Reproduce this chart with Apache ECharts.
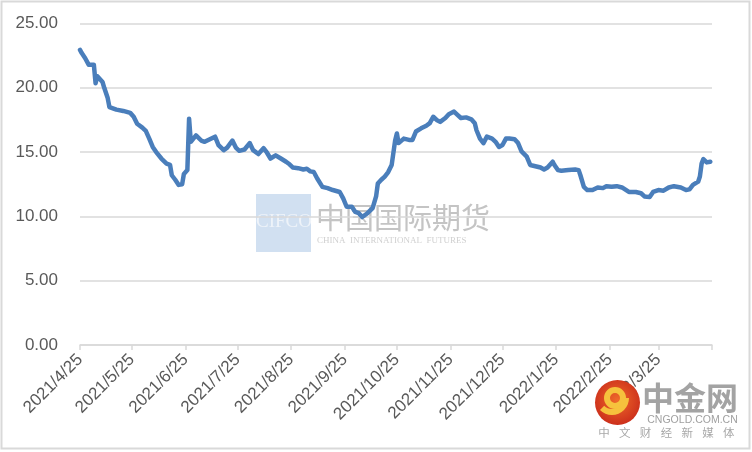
<!DOCTYPE html>
<html>
<head>
<meta charset="utf-8">
<script src="https://cdn.jsdelivr.net/npm/echarts@6/dist/echarts.min.js"></script>
<style>
html,body{margin:0;padding:0;background:#fff;}
#chart{width:752px;height:452px;}
</style>
</head>
<body>
<div id="chart"></div>
<script>
var dates = [
'2021-04-25','2021-04-26','2021-04-28','2021-04-30','2021-05-03','2021-05-04','2021-05-05','2021-05-06','2021-05-08','2021-05-09',
'2021-05-11','2021-05-12','2021-05-16','2021-05-20','2021-05-24','2021-05-26','2021-05-28','2021-05-31','2021-06-02','2021-06-04',
'2021-06-06','2021-06-08','2021-06-11','2021-06-14','2021-06-16','2021-06-17','2021-06-19','2021-06-21','2021-06-23','2021-06-24',
'2021-06-26','2021-06-27','2021-06-28','2021-06-29','2021-07-01','2021-07-04','2021-07-06','2021-07-09','2021-07-12','2021-07-14',
'2021-07-17','2021-07-19','2021-07-22','2021-07-24','2021-07-26','2021-07-29','2021-08-01','2021-08-03','2021-08-06','2021-08-09',
'2021-08-11','2021-08-13','2021-08-16','2021-08-19','2021-08-22','2021-08-24','2021-08-26','2021-08-29','2021-09-01','2021-09-03',
'2021-09-05','2021-09-07','2021-09-09','2021-09-12','2021-09-15','2021-09-18','2021-09-22','2021-09-24','2021-09-26','2021-09-29',
'2021-10-01','2021-10-03','2021-10-05','2021-10-08','2021-10-11','2021-10-13','2021-10-14','2021-10-16','2021-10-18','2021-10-20',
'2021-10-22','2021-10-24','2021-10-25','2021-10-26','2021-10-29','2021-11-01','2021-11-03','2021-11-05','2021-11-08','2021-11-11',
'2021-11-13','2021-11-15','2021-11-17','2021-11-19','2021-11-22','2021-11-24','2021-11-27','2021-11-29','2021-12-01','2021-12-04',
'2021-12-07','2021-12-09','2021-12-10','2021-12-12','2021-12-14','2021-12-16','2021-12-19','2021-12-21','2021-12-23','2021-12-25',
'2021-12-27','2021-12-29','2022-01-01','2022-01-03','2022-01-05','2022-01-08','2022-01-10','2022-01-13','2022-01-16','2022-01-18',
'2022-01-20','2022-01-23','2022-01-24','2022-01-26','2022-01-28','2022-02-01','2022-02-05','2022-02-07','2022-02-08','2022-02-10',
'2022-02-12','2022-02-15','2022-02-18','2022-02-21','2022-02-23','2022-02-26','2022-03-01','2022-03-04','2022-03-08','2022-03-12',
'2022-03-15','2022-03-17','2022-03-20','2022-03-22','2022-03-25','2022-03-28','2022-03-31','2022-04-03','2022-04-07','2022-04-10',
'2022-04-12','2022-04-14','2022-04-17','2022-04-18','2022-04-19','2022-04-20','2022-04-22','2022-04-24'
];
var values = [
22.95,22.7,22.3,21.8,21.8,20.35,20.9,20.75,20.45,20.0,
19.2,18.5,18.3,18.2,18.05,17.75,17.2,16.9,16.65,16.05,
15.4,15.0,14.5,14.1,14.0,13.2,12.85,12.45,12.5,13.3,
13.6,17.6,15.8,15.8,16.3,15.9,15.8,16.0,16.2,15.55,
15.15,15.35,15.9,15.35,15.1,15.2,15.7,15.15,14.85,15.3,
14.95,14.5,14.75,14.5,14.25,14.05,13.8,13.75,13.65,13.7,
13.5,13.45,12.95,12.3,12.2,12.05,11.9,11.4,10.75,10.75,
10.35,10.25,9.95,10.25,10.65,11.55,12.55,12.85,13.1,13.45,
14.0,15.9,16.45,15.7,16.05,15.95,15.95,16.6,16.85,17.05,
17.25,17.75,17.5,17.35,17.65,17.95,18.15,17.9,17.65,17.7,
17.55,17.25,16.7,16.05,15.7,16.2,16.05,15.8,15.4,15.55,
16.05,16.05,16.0,15.7,15.05,14.65,14.0,13.9,13.8,13.65,
13.8,14.25,14.0,13.6,13.55,13.6,13.65,13.6,13.2,12.3,
12.05,12.05,12.25,12.2,12.35,12.3,12.35,12.25,11.9,11.9,
11.8,11.55,11.5,11.9,12.05,12.0,12.25,12.35,12.25,12.05,
12.1,12.45,12.7,13.1,14.1,14.45,14.2,14.25
];
var tickDates = ['2021/4/25','2021/5/25','2021/6/25','2021/7/25','2021/8/25','2021/9/25','2021/10/25','2021/11/25','2021/12/25','2022/1/25','2022/2/25','2022/3/25','2022/4/25'];
var labelDates = tickDates.slice(0, 12);
var yTicks = [0, 5, 10, 15, 20, 25];

function toTime(s) {
  var p = s.split(/[\/-]/);
  return Date.UTC(+p[0], +p[1] - 1, +p[2]);
}
function fmt(t) {
  var d = new Date(t);
  return d.getUTCFullYear() + '/' + (d.getUTCMonth() + 1) + '/' + d.getUTCDate();
}

var seriesData = dates.map(function (d, i) { return [toTime(d), values[i]]; });

var sloganChars = ['中', '文', '财', '经', '新', '媒', '体'];
var sloganEls = sloganChars.map(function (c, i) {
  return {type: 'text', z: 101, silent: true, x: 604 + i * 20.8, y: 433,
    style: {text: c, fill: '#a8a8a8', font: '11.5px "Noto Sans CJK SC", sans-serif', align: 'center', verticalAlign: 'middle'}};
});

var chart = echarts.init(document.getElementById('chart'), null, {renderer: 'canvas'});
var labelFont = 'Liberation Sans, Arial, sans-serif';
chart.setOption({
  animation: false,
  backgroundColor: '#ffffff',
  grid: {left: 80, right: 40, top: 23.5, bottom: 107, containLabel: false},
  xAxis: {
    type: 'value',
    min: toTime(tickDates[0]),
    max: toTime(tickDates[tickDates.length - 1]),
    axisLine: {show: true, onZero: false, lineStyle: {color: '#d9d9d9', width: 1.5}},
    axisTick: {show: true, length: 5, lineStyle: {color: '#d9d9d9', width: 1.5}, customValues: tickDates.map(toTime)},
    axisLabel: {
      customValues: labelDates.map(toTime),
      formatter: function (v) { return fmt(v); },
      rotate: 45,
      margin: 12,
      color: '#595959',
      fontSize: 17,
      fontFamily: labelFont,
      showMinLabel: true,
      showMaxLabel: true,
      hideOverlap: false
    },
    splitLine: {show: false}
  },
  yAxis: {
    type: 'value',
    min: yTicks[0],
    max: yTicks[yTicks.length - 1],
    interval: 5,
    axisLine: {show: false},
    axisTick: {show: false},
    axisLabel: {
      formatter: function (v) { return v.toFixed(2); },
      color: '#595959',
      fontSize: 17,
      fontFamily: labelFont,
      margin: 22
    },
    splitLine: {show: true, lineStyle: {color: '#d9d9d9', width: 1.5}}
  },
  series: [{
    type: 'line',
    data: seriesData,
    showSymbol: false,
    symbol: 'none',
    smooth: false,
    z: 5,
    lineStyle: {color: '#4A7EBB', width: 4.5, cap: 'round', join: 'round'}
  }],
  graphic: [
    {type: 'rect', z: 100, silent: true, shape: {x: 1.5, y: 1.5, width: 748, height: 447}, style: {fill: null, stroke: '#d9d9d9', lineWidth: 2}},
    {type: 'rect', z: -1, silent: true, shape: {x: 256, y: 194, width: 55, height: 58}, style: {fill: '#c9dbee', opacity: 0.85}},
    {type: 'text', z: -1, silent: true, x: 284, y: 222, style: {text: 'CIFCO', fill: '#eef3f9', font: '19px Liberation Serif, serif', align: 'center', verticalAlign: 'middle'}},
    {type: 'text', z: -1, silent: true, x: 316, y: 218, style: {text: '中国国际期货', fill: '#c4c4c4', font: '29px "Noto Sans CJK SC", sans-serif', align: 'left', verticalAlign: 'middle'}},
    {type: 'text', z: -1, silent: true, x: 317, y: 241, style: {text: 'CHINA  INTERNATIONAL  FUTURES', fill: '#d0d0d0', font: '9px Liberation Serif, serif', align: 'left', verticalAlign: 'middle'}},
    {type: 'circle', z: 100, silent: true, shape: {cx: 617.5, cy: 402.5, r: 22.5},
      style: {fill: {type: 'radial', x: 0.5, y: 0.45, r: 0.6, colorStops: [{offset: 0, color: '#ef6a2a'}, {offset: 1, color: '#c92a1a'}]}}},
    {type: 'ring', z: 101, silent: true, shape: {cx: 615, cy: 398, r: 11, r0: 5}, style: {fill: '#f6c23d'}},
    {type: 'sector', z: 101, silent: true, shape: {cx: 612, cy: 398, r: 17, r0: 11, startAngle: 0, endAngle: Math.PI * 0.75}, style: {fill: '#f6c23d'}},
    {type: 'text', z: 101, silent: true, x: 690, y: 398, style: {text: '中金网', fill: '#a3a3a3', font: 'bold 32px "Noto Sans CJK SC", sans-serif', align: 'center', verticalAlign: 'middle'}},
    {type: 'text', z: 101, silent: true, x: 692.5, y: 420.5, style: {text: 'CNGOLD.COM.CN', fill: '#a0a0a0', font: '10.5px Liberation Sans, sans-serif', align: 'center', verticalAlign: 'middle'}}
  ].concat(sloganEls)
});
</script>
</body>
</html>
